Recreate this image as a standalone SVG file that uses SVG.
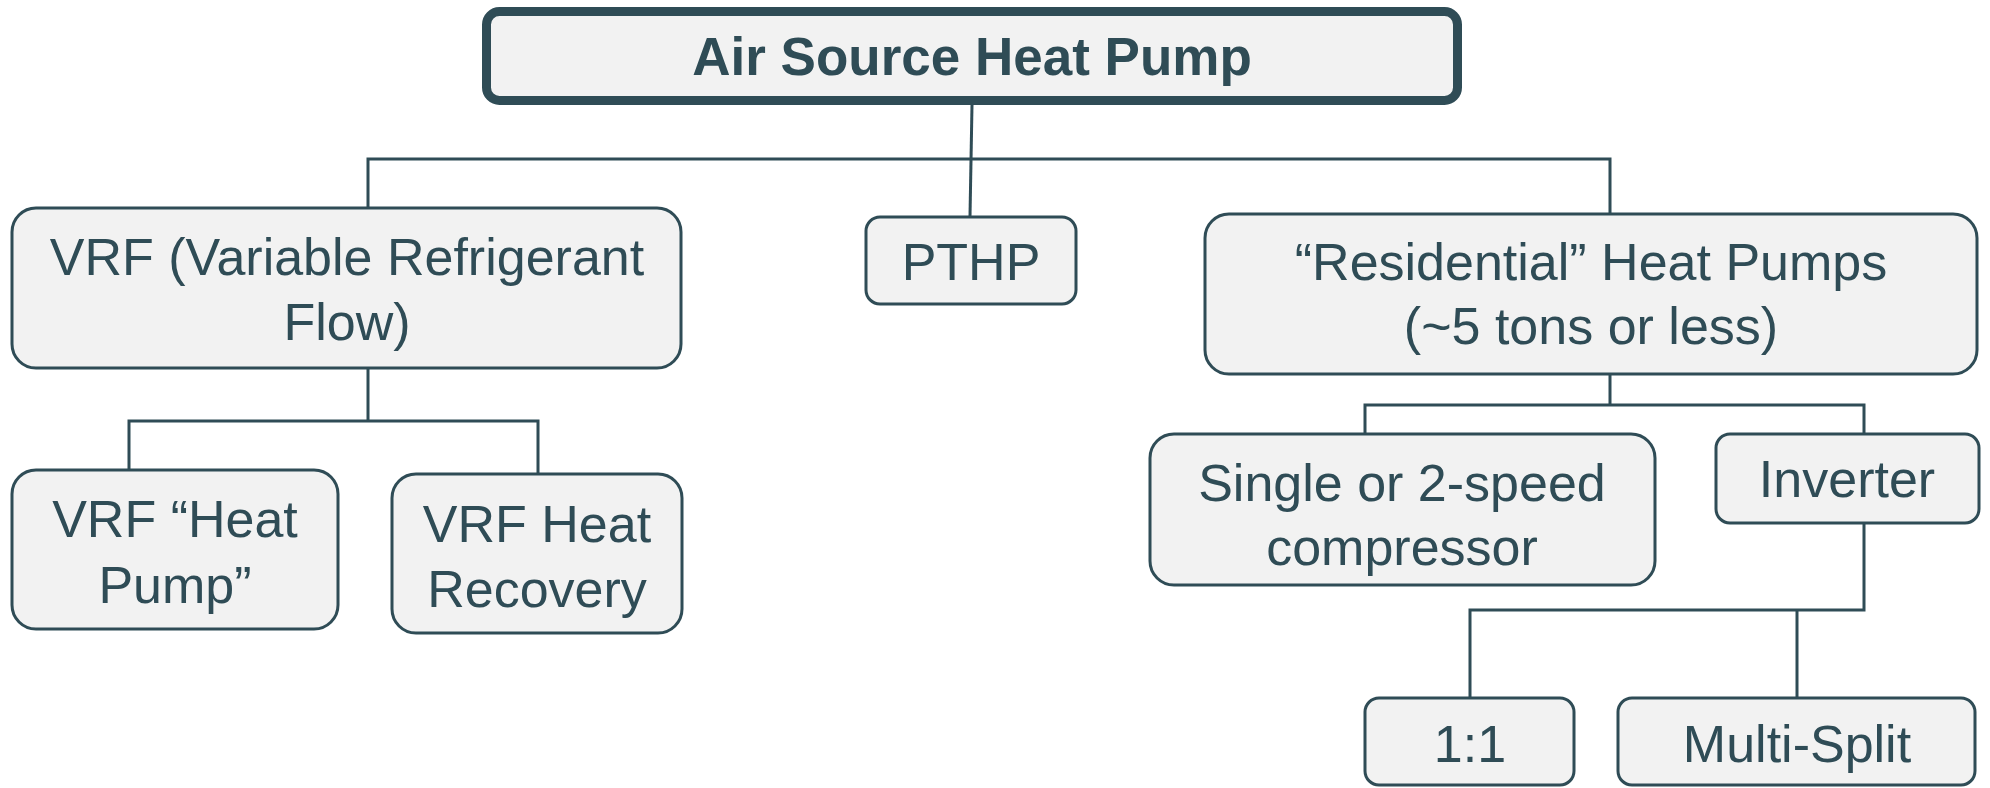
<svg xmlns="http://www.w3.org/2000/svg" width="1990" height="788" viewBox="0 0 1990 788">
<style>
.box{fill:#F2F2F2;stroke:#2F4C56;stroke-width:3}
.root{fill:#F2F2F2;stroke:#2F4C56;stroke-width:9}
.t{font-family:"Liberation Sans",Arial,sans-serif;font-size:52px;fill:#2F4C56;text-anchor:middle}
.tb{font-weight:bold;font-size:53px}
.c{fill:none;stroke:#2F4C56;stroke-width:3}
</style>
<rect width="1990" height="788" fill="#FFFFFF"/>
<g id="connectors">
<path class="c" d="M972 105 L970 216"/>
<path class="c" d="M368 208 L368 159 L1610 159 L1610 215"/>
<path class="c" d="M368 369 L368 421"/>
<path class="c" d="M129 470 L129 421 L538 421 L538 474"/>
<path class="c" d="M1610 375 L1610 405"/>
<path class="c" d="M1365 434 L1365 405 L1864 405 L1864 434"/>
<path class="c" d="M1864 523 L1864 610 L1470 610 L1470 697"/>
<path class="c" d="M1797 610 L1797 697"/>
</g>
<g id="root">
<rect class="root" x="486.5" y="11.5" width="971" height="89" rx="13"/>
<text class="t tb" x="972" y="75">Air Source Heat Pump</text>
</g>
<g id="vrf">
<rect class="box" x="12" y="208" width="669" height="160" rx="24"/>
<text class="t" x="347" y="275">VRF (Variable Refrigerant</text>
<text class="t" x="347" y="340">Flow)</text>
</g>
<g id="pthp">
<rect class="box" x="866" y="217" width="210" height="87" rx="14"/>
<text class="t" x="971" y="280">PTHP</text>
</g>
<g id="residential">
<rect class="box" x="1205" y="214" width="772" height="160" rx="24"/>
<text class="t" x="1591" y="280">“Residential” Heat Pumps</text>
<text class="t" x="1591" y="344">(~5 tons or less)</text>
</g>
<g id="vrf-hp">
<rect class="box" x="12" y="470" width="326" height="159" rx="24"/>
<text class="t" x="175" y="537">VRF “Heat</text>
<text class="t" x="175" y="603">Pump”</text>
</g>
<g id="vrf-hr">
<rect class="box" x="392" y="474" width="290" height="159" rx="24"/>
<text class="t" x="537" y="542">VRF Heat</text>
<text class="t" x="537" y="607">Recovery</text>
</g>
<g id="single">
<rect class="box" x="1150" y="434" width="505" height="151" rx="24"/>
<text class="t" x="1402" y="501">Single or 2-speed</text>
<text class="t" x="1402" y="565">compressor</text>
</g>
<g id="inverter">
<rect class="box" x="1716" y="434" width="263" height="89" rx="14"/>
<text class="t" x="1847" y="497">Inverter</text>
</g>
<g id="one-to-one">
<rect class="box" x="1365" y="698" width="209" height="87" rx="14"/>
<text class="t" x="1470" y="762">1:1</text>
</g>
<g id="multi-split">
<rect class="box" x="1618" y="698" width="357" height="87" rx="14"/>
<text class="t" x="1797" y="762">Multi-Split</text>
</g>
</svg>
